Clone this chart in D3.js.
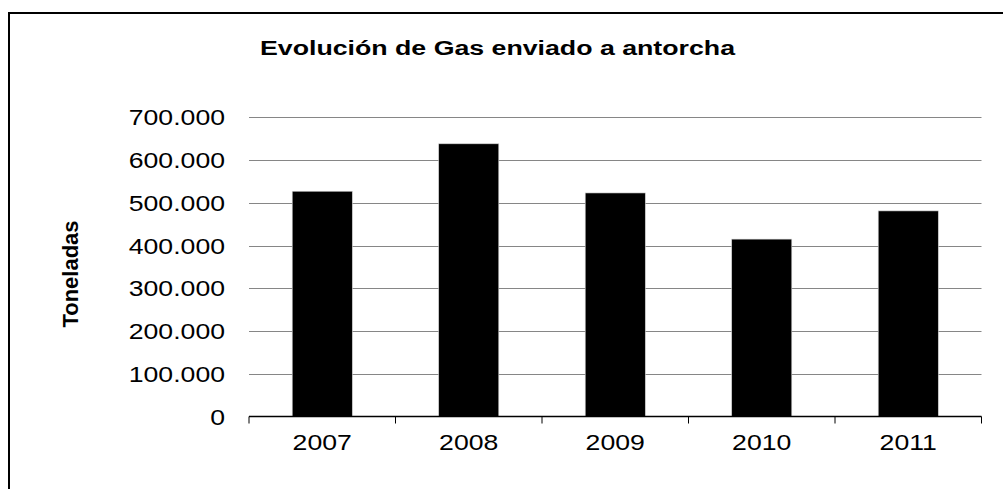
<!DOCTYPE html>
<html><head><meta charset="utf-8">
<script src="https://cdn.jsdelivr.net/npm/d3@7"></script>
<style>html,body{margin:0;padding:0;background:#fff;overflow:hidden}</style>
</head><body>
<svg id="c" width="1003" height="489"></svg>
<script>
const categories = ["2007","2008","2009","2010","2011"];
const values = [527000, 638000, 523000, 415000, 481000];
const yTicks = [0,100000,200000,300000,400000,500000,600000,700000];
const title = "Evolución de Gas enviado a antorcha";
const yTitle = "Toneladas";

const svg = d3.select("#c");
const font = "'Liberation Sans', Arial, sans-serif";
const stretch = 1.21;

// outer border
svg.append("rect").attr("x",9).attr("y",13).attr("width",1100).attr("height",600)
  .attr("fill","none").attr("stroke","#000").attr("stroke-width",2);

const x = d3.scaleBand().domain(categories).range([249,981.5]).paddingInner(0.59).paddingOuter(0.295);
const y = d3.scaleLinear().domain([0,700000]).range([416.5,117.3]);

// gridlines
svg.append("g").selectAll("line").data(yTicks.slice(1)).join("line")
  .attr("x1",249).attr("x2",981.5)
  .attr("y1",d=>Math.round(y(d))+0.5).attr("y2",d=>Math.round(y(d))+0.5)
  .attr("stroke","#868686").attr("stroke-width",1);

// bars
svg.append("g").selectAll("rect").data(values).join("rect")
  .attr("x",(d,i)=>x(categories[i])).attr("width",x.bandwidth())
  .attr("y",d=>y(d)).attr("height",d=>y(0)-y(d))
  .attr("fill","#000").attr("stroke","#d0d0d0").attr("stroke-width",0.6);

// x axis
const gx = svg.append("g").attr("transform","translate(0,416.5)");
gx.append("line").attr("x1",249).attr("x2",981.5).attr("stroke","#000").attr("stroke-width",1.3);
const step = x.step();
gx.selectAll("line.tk").data(d3.range(categories.length+1)).join("line").attr("class","tk")
  .attr("x1",i=>249+i*step).attr("x2",i=>249+i*step).attr("y1",0).attr("y2",7)
  .attr("stroke","#000").attr("stroke-width",1);
gx.selectAll("text").data(categories).join("text")
  .attr("x",d=>x(d)+x.bandwidth()/2).attr("y",33).attr("text-anchor","middle")
  .attr("font-family",font).attr("font-size",22).attr("class","st").text(d=>d);

// y labels
svg.append("g").selectAll("text").data(yTicks).join("text")
  .attr("x",225).attr("y",d=>y(d)+8).attr("text-anchor","end")
  .attr("font-family",font).attr("font-size",22).attr("class","st")
  .text(d=>d3.format(",")(d).replace(/,/g,"."));

// title
svg.append("text").attr("x",497.5).attr("y",55).attr("text-anchor","middle")
  .attr("font-family",font).attr("font-size",20).attr("font-weight","bold")
  .attr("textLength",475).attr("lengthAdjust","spacingAndGlyphs").text(title);

// y title
svg.append("text").attr("transform","translate(78,274) rotate(-90)").attr("text-anchor","middle")
  .attr("font-family",font).attr("font-size",22).attr("font-weight","bold").text(yTitle);

svg.selectAll("text.st").each(function(){
  const w = this.getComputedTextLength();
  d3.select(this).attr("textLength", w*stretch).attr("lengthAdjust","spacingAndGlyphs");
});
</script>
</body></html>
